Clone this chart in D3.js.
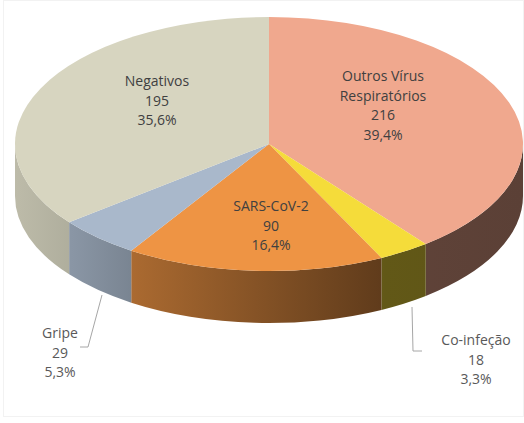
<!DOCTYPE html>
<html>
<head>
<meta charset="utf-8">
<script src="https://cdn.jsdelivr.net/npm/d3@7"></script>
<style>
  body { margin: 0; background: #fff; }
  text { font-family: "Open Sans", sans-serif; }
</style>
</head>
<body>
<div id="container"></div>
<script>
/* DATA */
const categories = ["Outros Vírus Respiratórios", "Co-infeção", "SARS-CoV-2", "Gripe", "Negativos"];
const values = [216, 18, 90, 29, 195];
const labelLines = [["Outros Vírus", "Respiratórios"], ["Co-infeção"], ["SARS-CoV-2"], ["Gripe"], ["Negativos"]];
const colors = ["#F0A88E", "#F5DC3A", "#EE9444", "#A9B8CB", "#D7D5C0"];

/* LAYOUT */
const width = 524, height = 423;
const cx = 269, cy = 144, rx = 254, ry = 127, depth = 52;
// label anchor (center x, first baseline) and leader lines, by slice
const labelPos = [[383, 81], [476, 345], [271, 211], [60, 338], [157, 86]];
const leaders = {
  1: [[412, 307], [413, 351], [422, 351]],
  3: [[102, 295], [88, 347], [80, 347]]
};
const lineStep = 19.5;

const svg = d3.select("#container").append("svg")
  .attr("width", width)
  .attr("height", height);

svg.append("rect")
  .attr("x", 3.5).attr("y", 0.5)
  .attr("width", width - 4).attr("height", 416)
  .attr("fill", "#fff")
  .attr("stroke", "#f2f2f2");

const pie = d3.pie().sort(null).startAngle(0).endAngle(2 * Math.PI);
const arcs = pie(values);
const total = d3.sum(values);
const color = d3.scaleOrdinal().domain(categories).range(colors);
const pct = d3.formatLocale({ decimal: ",", thousands: ".", grouping: [3], currency: ["", ""] }).format(".1%");

// side darkness across the width
const shade = d3.scaleLinear()
  .domain([15, 75, 137, 385, 522])
  .range([0.88, 0.81, 0.71, 0.40, 0.38]);

const pt = (a, dy = 0) => [cx + rx * Math.sin(a), cy - ry * Math.cos(a) + dy];

const defs = svg.append("defs");
categories.forEach((c, i) => {
  const g = defs.append("linearGradient")
    .attr("id", "side" + i)
    .attr("gradientUnits", "userSpaceOnUse")
    .attr("x1", cx - rx).attr("x2", cx + rx)
    .attr("y1", 0).attr("y2", 0);
  shade.domain().forEach(x => {
    const k = shade(x);
    const base = d3.rgb(color(c));
    g.append("stop")
      .attr("offset", (x - (cx - rx)) / (2 * rx))
      .attr("stop-color", d3.rgb(base.r * k, base.g * k, base.b * k));
  });
});

/* SIDES (front half only) */
const lo = Math.PI / 2, hi = 3 * Math.PI / 2;
svg.append("g").selectAll("path")
  .data(arcs.filter(d => d.endAngle > lo && d.startAngle < hi))
  .join("path")
  .attr("fill", d => `url(#side${d.index})`)
  .attr("d", d => {
    const a0 = Math.max(d.startAngle, lo), a1 = Math.min(d.endAngle, hi);
    const p0 = pt(a0), p1 = pt(a1), q1 = pt(a1, depth), q0 = pt(a0, depth);
    return `M${p0}A${rx},${ry} 0 0 1 ${p1}L${q1}A${rx},${ry} 0 0 0 ${q0}Z`;
  });

/* TOP FACES */
svg.append("g").selectAll("path")
  .data(arcs)
  .join("path")
  .attr("fill", d => color(categories[d.index]))
  .attr("d", d => {
    const p0 = pt(d.startAngle), p1 = pt(d.endAngle);
    const large = d.endAngle - d.startAngle > Math.PI ? 1 : 0;
    return `M${cx},${cy}L${p0}A${rx},${ry} 0 ${large} 1 ${p1}Z`;
  });

/* LEADER LINES */
svg.append("g").selectAll("path")
  .data(Object.values(leaders))
  .join("path")
  .attr("fill", "none")
  .attr("stroke", "#a6a6a6")
  .attr("stroke-width", 1)
  .attr("d", d3.line());

/* LABELS */
const labels = svg.append("g").selectAll("text")
  .data(arcs)
  .join("text")
  .attr("text-anchor", "middle")
  .attr("font-size", 14)
  .attr("fill", d => leaders[d.index] ? "#595959" : "#404040")
  .attr("x", d => labelPos[d.index][0])
  .attr("y", d => labelPos[d.index][1]);

labels.each(function(d) {
  const lines = [...labelLines[d.index], String(values[d.index]), pct(values[d.index] / total)];
  d3.select(this).selectAll("tspan")
    .data(lines)
    .join("tspan")
    .attr("x", labelPos[d.index][0])
    .attr("dy", (t, j) => j === 0 ? 0 : lineStep)
    .text(t => t);
});
</script>
</body>
</html>
